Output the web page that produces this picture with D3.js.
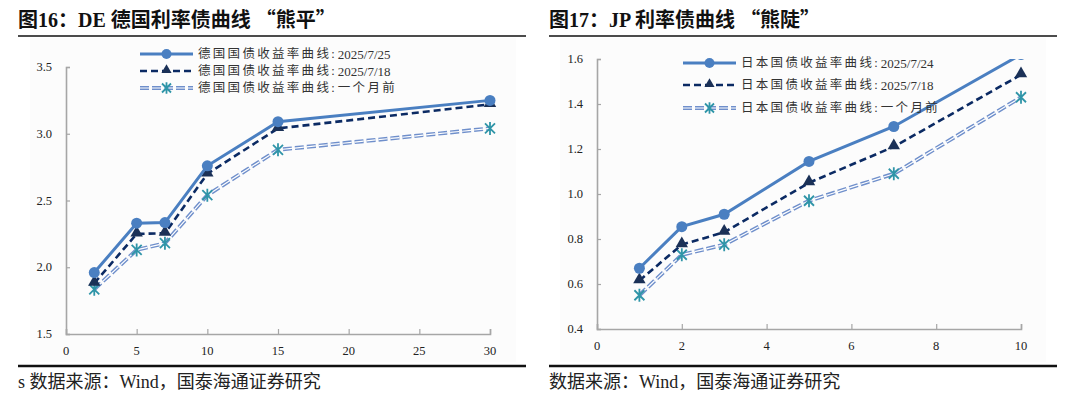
<!DOCTYPE html>
<html>
<head>
<meta charset="utf-8">
<script src="https://cdn.jsdelivr.net/npm/d3@7"></script>
<style>
  body { margin: 0; background: #fff; }
  svg { display: block; }
  text { font-family: "Liberation Serif", "Noto Sans CJK SC", serif; }
</style>
</head>
<body>
<svg id="chart" width="1080" height="398"></svg>
<script>
// ---- data ----
var deTenors = [2, 5, 7, 10, 15, 30];
var deNow = [1.96, 2.33, 2.335, 2.76, 3.09, 3.25];
var deWeek = [1.88, 2.25, 2.255, 2.70, 3.04, 3.22];
var deMonth = [1.835, 2.13, 2.18, 2.54, 2.88, 3.04];
var deXTicks = [0, 5, 10, 15, 20, 25, 30];
var deYTicks = [1.5, 2.0, 2.5, 3.0, 3.5];
var deLegend = ["德国国债收益率曲线: 2025/7/25", "德国国债收益率曲线: 2025/7/18", "德国国债收益率曲线: 一个月前"];

var jpTenors = [1, 2, 3, 5, 7, 10];
var jpNow = [0.67, 0.855, 0.91, 1.145, 1.30, 1.62];
var jpWeek = [0.615, 0.775, 0.83, 1.05, 1.21, 1.53];
var jpMonth = [0.55, 0.73, 0.775, 0.97, 1.09, 1.43];
var jpXTicks = [0, 2, 4, 6, 8, 10];
var jpYTicks = [0.4, 0.6, 0.8, 1.0, 1.2, 1.4, 1.6];
var jpLegend = ["日本国债收益率曲线: 2025/7/24", "日本国债收益率曲线: 2025/7/18", "日本国债收益率曲线: 一个月前"];

var svg = d3.select("#chart");
var axisColor = "#a6a6a6";
var c1 = "#4a7fc1", c2 = "#0b2a63", c3 = "#6f8fcb", cStar = "#2f95a8";
var cjk = "'Noto Sans CJK SC'";

function star(g, x, y, r) {
  g.append("path")
    .attr("d", "M" + (x - r) + "," + (y - r) + "L" + (x + r) + "," + (y + r) +
               "M" + (x - r) + "," + (y + r) + "L" + (x + r) + "," + (y - r) +
               "M" + x + "," + (y - r * 1.3) + "L" + x + "," + (y + r * 1.3))
    .attr("stroke", cStar).attr("stroke-width", 1.8).attr("fill", "none");
}
function tri(g, x, y, r) {
  g.append("path")
    .attr("d", d3.symbol().type(d3.symbolTriangle).size(r * r * 2.2)())
    .attr("transform", "translate(" + x + "," + (y - 1) + ")")
    .attr("fill", "#1b3157");
}
function dot(g, x, y, r) {
  g.append("circle").attr("cx", x).attr("cy", y).attr("r", r).attr("fill", c1);
}
function styleLine(g, pts, kind) {
  if (kind == 1) {
    g.append("path").attr("d", pts).attr("fill", "none").attr("stroke", c1).attr("stroke-width", 3);
  } else if (kind == 2) {
    g.append("path").attr("d", pts).attr("fill", "none").attr("stroke", c2)
      .attr("stroke-width", 2.6).attr("stroke-dasharray", "7,4");
  } else {
    g.append("path").attr("d", pts).attr("fill", "none").attr("stroke", c3)
      .attr("stroke-width", 4).attr("stroke-dasharray", "9,3");
    g.append("path").attr("d", pts).attr("fill", "none").attr("stroke", "#fff")
      .attr("stroke-width", 1.2).attr("stroke-dasharray", "9,3");
  }
}

function legendLabel(g, x, y, s) {
  var i = s.indexOf(":");
  var t = g.append("text").attr("x", x).attr("y", y).attr("font-size", 12.5)
    .attr("fill", "#333").attr("dominant-baseline", "central");
  t.append("tspan").attr("letter-spacing", 2.3).text(s.slice(0, i));
  var rest = s.slice(i + 1).trim();
  var restIsCjk = /[\u4e00-\u9fff]/.test(rest);
  t.append("tspan").text(": ");
  t.append("tspan").attr("letter-spacing", restIsCjk ? 2.3 : 0).attr("font-size", restIsCjk ? 12.5 : 13).text(rest);
}

function panel(cfg) {
  var g = svg.append("g");
  // faint chart-area fill
  g.append("rect").attr("x", cfg.bg[0]).attr("y", cfg.bg[1]).attr("width", cfg.bg[2]).attr("height", cfg.bg[3])
    .attr("fill", "#fcfcfc");

  // title + rules (quotes drawn with the CJK font so they take full width)
  var tt = g.append("text").attr("x", cfg.left).attr("y", 27).attr("font-size", 20).attr("font-weight", "bold")
    .attr("fill", "#111");
  var q = cfg.title.indexOf("“");
  tt.append("tspan").text(cfg.title.slice(0, q) + " ");
  tt.append("tspan").style("font-family", cjk).text(cfg.title.slice(q));

  g.append("line").attr("x1", cfg.left).attr("x2", cfg.right).attr("y1", 36).attr("y2", 36)
    .attr("stroke", "#111").attr("stroke-width", 1.6);
  g.append("line").attr("x1", cfg.left).attr("x2", cfg.right).attr("y1", 366).attr("y2", 366)
    .attr("stroke", "#111").attr("stroke-width", 2.4);
  g.append("text").attr("x", cfg.left).attr("y", 388).attr("font-size", 18).attr("fill", "#222").text(cfg.source);

  var x = d3.scaleLinear().domain(cfg.xDomain).range(cfg.xRange);
  var y = d3.scaleLinear().domain(cfg.yDomain).range(cfg.yRange);

  // axes
  var ya = g.append("g").attr("transform", "translate(" + cfg.xRange[0] + ",0)")
    .call(d3.axisRight(y).tickValues(cfg.yTicks).tickSize(4).tickFormat(""));
  var xa = g.append("g").attr("transform", "translate(0," + cfg.yRange[0] + ")")
    .call(d3.axisTop(x).tickValues(cfg.xTicks).tickSize(5).tickFormat(""));
  [ya, xa].forEach(function(a) {
    a.select(".domain").attr("stroke", axisColor).attr("stroke-width", 1.6);
    a.selectAll(".tick line").attr("stroke", axisColor).attr("stroke-width", 1.2);
  });
  cfg.yTicks.forEach(function(v) {
    g.append("text").attr("x", cfg.xRange[0] - 14).attr("y", y(v)).attr("dominant-baseline", "central")
      .attr("text-anchor", "end").attr("font-size", 12.5).attr("fill", "#222").text(v.toFixed(1));
  });
  cfg.xTicks.forEach(function(v) {
    g.append("text").attr("x", x(v)).attr("y", cfg.yRange[0] + 21).attr("text-anchor", "middle")
      .attr("font-size", 12.5).attr("fill", "#222").text(v);
  });

  // clip to plot area
  var cid = "clip" + cfg.id;
  svg.append("clipPath").attr("id", cid).append("rect")
    .attr("x", cfg.xRange[0]).attr("y", cfg.yRange[1])
    .attr("width", cfg.xRange[1] - cfg.xRange[0] + 20).attr("height", cfg.yRange[0] - cfg.yRange[1]);
  var pg = g.append("g").attr("clip-path", "url(#" + cid + ")");
  var line = d3.line().x(function(d) { return x(d[0]); }).y(function(d) { return y(d[1]); });

  var series = [cfg.month, cfg.week, cfg.now];
  var kinds = [3, 2, 1];
  series.forEach(function(s, k) {
    var pts = cfg.tenors.map(function(t, i) { return [t, s[i]]; });
    styleLine(pg, line(pts), kinds[k]);
    pts.forEach(function(p) {
      var px = x(p[0]), py = y(p[1]);
      if (kinds[k] == 1) dot(pg, px, py, 5.5);
      else if (kinds[k] == 2) tri(pg, px, py, 5.5);
      else star(pg, px, py, 5);
    });
  });

  // legend
  var lg = g.append("g");
  cfg.legend.forEach(function(label, i) {
    var ly = cfg.legY[i], lx = cfg.legX;
    var pts = "M" + lx + "," + ly + "L" + (lx + 53) + "," + ly;
    styleLine(lg, pts, i + 1);
    if (i == 0) dot(lg, lx + 26.5, ly, 5);
    else if (i == 1) tri(lg, lx + 26.5, ly, 4.5);
    else star(lg, lx + 26.5, ly, 4.5);
    legendLabel(lg, lx + 58, ly, label);
  });
}

panel({
  id: 1, left: 18, right: 526, bg: [30, 38, 486, 324],
  title: "图16：DE 德国利率债曲线“熊平”", source: "s 数据来源：Wind，国泰海通证券研究",
  xDomain: [0, 30], xRange: [66, 490], yDomain: [1.5, 3.5], yRange: [334, 67],
  xTicks: deXTicks, yTicks: deYTicks, tenors: deTenors,
  now: deNow, week: deWeek, month: deMonth,
  legend: deLegend, legX: 140, legY: [54, 71, 88]
});

panel({
  id: 2, left: 549, right: 1057, bg: [560, 38, 486, 324],
  title: "图17：JP 利率债曲线“熊陡”", source: "数据来源：Wind，国泰海通证券研究",
  xDomain: [0, 10], xRange: [597, 1021], yDomain: [0.4, 1.6], yRange: [329, 59],
  xTicks: jpXTicks, yTicks: jpYTicks, tenors: jpTenors,
  now: jpNow, week: jpWeek, month: jpMonth,
  legend: jpLegend, legX: 683, legY: [63, 85, 108]
});
</script>
</body>
</html>
